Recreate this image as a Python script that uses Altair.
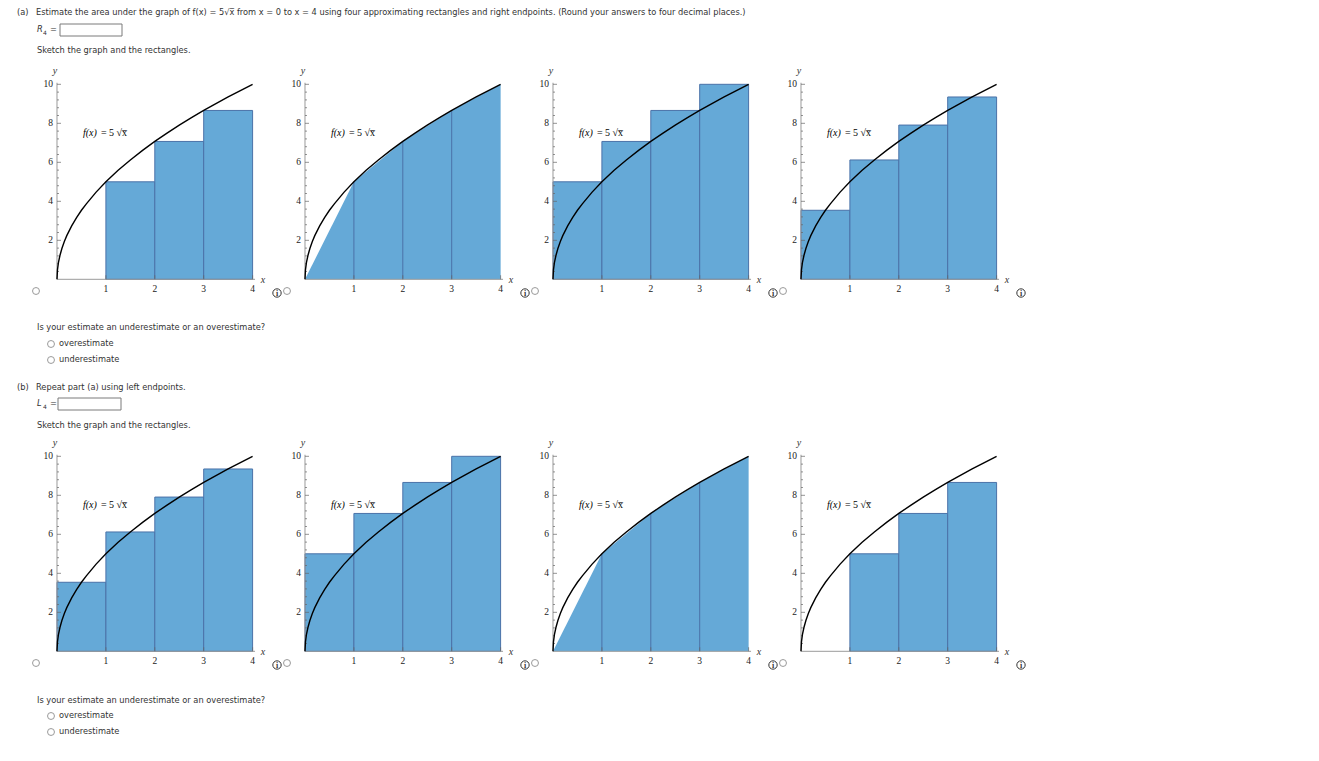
import altair as alt
import pandas as pd

# ---------------- data ----------------
curve_x = [0, 0.01, 0.03, 0.06, 0.1, 0.15, 0.2, 0.3, 0.4, 0.5, 0.6, 0.8, 1.0,
           1.25, 1.5, 1.75, 2.0, 2.25, 2.5, 2.75, 3.0, 3.25, 3.5, 3.75, 4.0]
curve_y = [0, 0.5, 0.87, 1.22, 1.58, 1.94, 2.24, 2.74, 3.16, 3.54, 3.87, 4.47, 5.0,
           5.59, 6.12, 6.61, 7.07, 7.5, 7.91, 8.29, 8.66, 9.01, 9.35, 9.68, 10.0]
ends = [0, 1, 2, 3, 4]
left_h = [0, 5.0, 7.07, 8.66]
right_h = [5.0, 7.07, 8.66, 10.0]
mid_h = [3.54, 6.12, 7.91, 9.35]
trap_y = [0, 5.0, 7.07, 8.66, 10.0]
y_major = [2, 4, 6, 8, 10]
y_major_lab = ["2", "4", "6", "8", "10"]
y_minor = [0.4, 0.8, 1.2, 1.6, 2.4, 2.8, 3.2, 3.6, 4.4, 4.8, 5.2, 5.6,
           6.4, 6.8, 7.2, 7.6, 8.4, 8.8, 9.2, 9.6]
x_major = [1, 2, 3, 4]
x_major_lab = ["1", "2", "3", "4"]
row1_kinds = ["left", "trap", "right", "mid"]
row2_kinds = ["mid", "right", "trap", "left"]

# ---------------- style ----------------
BLUE = "#65A9D7"
EDGE = "#4A72A8"
AXC = "#9A9A9A"
TXT = "#333333"
SANS = "DejaVu Sans"
SERIF = "Liberation Serif"
FS = 8.25
PW, PH = 248, 248
XS = alt.Scale(domain=[-1.002, 4.0695], nice=False, zero=False)
YS = alt.Scale(domain=[-1.574, 11.144], nice=False, zero=False)


def X(f):
    return alt.X(f, type="quantitative", scale=XS, axis=None)


def Y(f):
    return alt.Y(f, type="quantitative", scale=YS, axis=None)


ONE = pd.DataFrame({"a": [0]})


def txt(s, x, y, size=FS, font=SANS, color=TXT, style="normal", align="left", weight="normal"):
    return alt.Chart(pd.DataFrame({"t": [s]})).mark_text(
        align=align, baseline="middle", fontSize=size, font=font, color=color,
        fontStyle=style, fontWeight=weight
    ).encode(x=alt.value(x), y=alt.value(y), text="t:N")


def radio(x, y):
    return alt.Chart(ONE).mark_point(
        shape="circle", size=48, filled=False, stroke="#9a9a9a", strokeWidth=1, opacity=1
    ).encode(x=alt.value(x), y=alt.value(y))


def info(x, y):
    c = alt.Chart(ONE).mark_point(
        shape="circle", size=70, filled=False, stroke="#333333", strokeWidth=1, opacity=1
    ).encode(x=alt.value(x), y=alt.value(y))
    t = txt("i", x, y + 0.5, size=8, font=SERIF, color="#333333", align="center", weight="bold")
    return [c, t]


def box(x1, y1, x2, y2):
    return alt.Chart(ONE).mark_rect(fill="white", stroke="#7a7a7a", strokeWidth=1).encode(
        x=alt.value(x1), x2=alt.value(x2), y=alt.value(y1), y2=alt.value(y2))


def panel(kind, k):
    layers = []
    if kind == "trap":
        tdf = pd.DataFrame({"x": ends, "y": trap_y})
        layers.append(alt.Chart(tdf).mark_area(color=BLUE, opacity=1).encode(
            x=X("x"), y=Y("y"), y2=alt.datum(0)))
        layers.append(alt.Chart(tdf).transform_filter("datum.x > 0 && datum.x < 4").mark_rule(
            color=EDGE, strokeWidth=1).encode(x=X("x"), y=Y("y"), y2=alt.datum(0)))
    else:
        h = {"left": left_h, "right": right_h, "mid": mid_h}[kind]
        rdf = pd.DataFrame({"x0": ends[:-1], "x1": ends[1:], "h": h})
        layers.append(alt.Chart(rdf).transform_filter("datum.h > 0").mark_rect(
            fill=BLUE, stroke=EDGE, strokeWidth=1, opacity=1).encode(
            x=X("x0"), x2="x1", y=Y("h"), y2=alt.datum(0)))
    # axes lines
    layers.append(alt.Chart(ONE).mark_rule(color=AXC, strokeWidth=1).encode(
        x=alt.datum(0), x2=alt.datum(4.05), y=alt.datum(0)))
    layers.append(alt.Chart(ONE).mark_rule(color=AXC, strokeWidth=1).encode(
        x=alt.datum(0), y=alt.datum(0), y2=alt.datum(10.08)))
    # ticks
    layers.append(alt.Chart(pd.DataFrame({"v": y_major})).mark_tick(
        orient="horizontal", size=4, thickness=1, color="#666666", xOffset=2).encode(
        x=alt.datum(0), y=Y("v")))
    layers.append(alt.Chart(pd.DataFrame({"v": y_minor})).mark_tick(
        orient="horizontal", size=2, thickness=1, color="#666666", xOffset=1).encode(
        x=alt.datum(0), y=Y("v")))
    layers.append(alt.Chart(pd.DataFrame({"v": x_major})).mark_tick(
        orient="vertical", size=4, thickness=1, color="#666666", yOffset=-2).encode(
        x=X("v"), y=alt.datum(0)))
    # tick labels
    layers.append(alt.Chart(pd.DataFrame({"v": y_major, "lab": y_major_lab})).mark_text(
        align="right", baseline="middle", dx=-4, fontSize=9.5, font=SERIF, color="#222222").encode(
        x=alt.datum(0), y=Y("v"), text="lab:N"))
    layers.append(alt.Chart(pd.DataFrame({"v": x_major, "lab": x_major_lab})).mark_text(
        align="center", baseline="middle", dy=10, fontSize=9.5, font=SERIF, color="#222222").encode(
        x=X("v"), y=alt.datum(0), text="lab:N"))
    # axis names
    layers.append(alt.Chart(pd.DataFrame({"t": ["y"]})).mark_text(
        align="center", baseline="middle", dx=-2, dy=-12, fontSize=10, font=SERIF,
        fontStyle="italic", color=TXT).encode(x=alt.datum(0), y=alt.datum(10.08), text="t:N"))
    layers.append(alt.Chart(pd.DataFrame({"t": ["x"]})).mark_text(
        align="center", baseline="middle", dx=8, dy=1, fontSize=10, font=SERIF,
        fontStyle="italic", color=TXT).encode(x=alt.datum(4.05), y=alt.datum(0), text="t:N"))
    # curve
    layers.append(alt.Chart(pd.DataFrame({"x": curve_x, "y": curve_y})).mark_line(
        color="black", strokeWidth=1.4).encode(x=X("x"), y=Y("y")))
    # function label
    layers.append(alt.Chart(pd.DataFrame({"t": ["f(x)"]})).mark_text(
        align="left", baseline="middle", fontSize=10, font=SERIF, fontStyle="italic",
        color="black").encode(x=alt.datum(0.53), y=alt.datum(7.5), text="t:N"))
    layers.append(alt.Chart(pd.DataFrame({"t": ["= 5 \u221ax\u0305"]})).mark_text(
        align="left", baseline="middle", dx=18, fontSize=10, font=SERIF,
        color="black").encode(x=alt.datum(0.53), y=alt.datum(7.5), text="t:N"))
    # radio and info icon
    layers.append(radio(28 if k == 0 else 31, 229))
    layers += info(269, 231)
    return alt.layer(*layers).properties(width=PW, height=PH)


# ---------------- text blocks ----------------
main_a = ("Estimate the area under the graph of f(x) = 5\u221ax\u0305 from x = 0 to x = 4 using four "
          "approximating rectangles and right endpoints. (Round your answers to four decimal places.)")
header = alt.layer(
    txt("(a)", 9, 5),
    txt(main_a, 28, 5),
    txt("R", 29, 22, style="italic"),
    txt("4", 35, 25, size=6),
    txt("=", 42, 22),
    box(52, 16, 114, 28),
    txt("Sketch the graph and the rectangles.", 29, 43),
).properties(width=992, height=54)

middle = alt.layer(
    txt("Is your estimate an underestimate or an overestimate?", 29, 18),
    radio(43, 34), txt("overestimate", 51, 34),
    radio(43, 50), txt("underestimate", 51, 50),
    txt("(b)", 9, 78),
    txt("Repeat part (a) using left endpoints.", 28, 78),
    txt("L", 29, 94, style="italic"),
    txt("4", 35, 97, size=6),
    txt("=", 42, 94),
    box(50, 88, 113, 100),
    txt("Sketch the graph and the rectangles.", 29, 116),
).properties(width=992, height=124)

footer = alt.layer(
    txt("Is your estimate an underestimate or an overestimate?", 29, 19),
    radio(43, 34), txt("overestimate", 51, 34),
    radio(43, 50), txt("underestimate", 51, 50),
).properties(width=992, height=60)

row1 = alt.hconcat(*[panel(kd, i) for i, kd in enumerate(row1_kinds)], spacing=0, bounds="flush")
row2 = alt.hconcat(*[panel(kd, i) for i, kd in enumerate(row2_kinds)], spacing=0, bounds="flush")

chart = alt.vconcat(header, row1, middle, row2, footer, spacing=0, bounds="full").properties(
    padding=0
).configure_view(stroke=None).configure_axis(disable=True)

chart.save("out.html", embed_options={"renderer": "svg", "actions": False})
